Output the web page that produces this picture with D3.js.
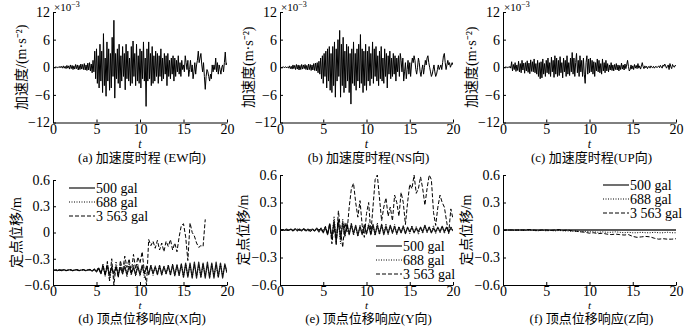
<!DOCTYPE html>
<html>
<head>
<meta charset="utf-8">
<script src="https://cdn.jsdelivr.net/npm/d3@7"></script>
<style>
body{margin:0;background:#fff;}
text{font-family:"Liberation Serif","Noto Sans CJK SC",serif;fill:#000;}
</style>
</head>
<body>
<div id="chart"></div>
<script>
// sampling steps (s)
var accStep = 0.1, dispStep = 0.25, zStep = 0.5;

var timeTicks = [0, 5, 10, 15, 20];
var accTicks = [-12, -6, 0, 6, 12];
var dispTicks = [-0.6, -0.3, 0, 0.3, 0.6];
var legendLabels = ["500 gal", "688 gal", "3 563 gal"];

// acceleration, x10^-3
var accEW = [
 0,0.1,-0.1,0.1,0,-0.1,0.1,-0.1,0.2,-0.1,
 0.2,-0.2,0.3,-0.2,0.2,-0.3,0.4,-0.2,0.3,-0.4,
 0.5,-0.3,0.4,-0.5,0.3,-0.4,0.6,-0.3,0.5,-0.6,
 0.4,-0.5,0.7,-0.4,0.6,-0.5,0.8,-0.6,0.5,-0.7,
 0.9,-0.6,1.0,-0.8,0.7,-1.2,1.5,-1.0,3.5,-2.5,
 4.0,-3.5,2.5,-4.5,5.0,-3.0,3.5,-5.5,7.3,-4.0,
 2.0,-6.3,5.5,-3.0,4.0,-5.0,3.0,-4.5,6.5,-2.0,
 10.2,-6.7,3.0,-2.5,4.0,-3.5,5.0,-4.5,2.5,-3.0,
 4.5,-2.0,3.0,-4.9,5.0,-2.5,3.5,-3.0,2.0,-4.0,
 4.5,-3.5,5.7,-2.0,3.0,-4.0,5.0,-3.0,2.5,-3.5,
 4.0,-4.5,3.5,-2.5,5.5,-3.0,2.0,-8.5,4.0,-3.0,
 5.5,-2.5,3.0,-4.0,4.5,-3.5,2.5,-3.0,3.5,-2.0,
 3.0,-3.5,2.5,-2.0,4.0,-3.0,2.0,-2.5,3.0,-1.5,
 2.5,-4.0,3.0,-2.0,1.5,-2.5,2.0,-1.5,2.5,-3.0,
 2.0,-2.0,1.5,-1.0,2.5,-1.5,1.0,-2.0,1.5,-0.5,
 0.5,-1.0,2.5,1.0,-0.5,1.5,-2.0,-0.5,1.5,-1.0,
 0.5,-2.5,-1.0,1.0,-1.5,0.5,1.5,3.5,1.0,2.0,
 3.0,0.5,-1.0,1.0,-2.0,-4.8,-2.0,-0.5,-1.0,-2.0,
 -3.0,-1.5,-2.5,0.5,-1.0,0.5,-0.5,2.0,-1.0,1.0,
 -1.5,0.5,-0.5,-1.5,0,0.5,-1.0,1.0,3.3,0.5,
 1.0];

var accNS = [
 0,0.1,-0.1,0,0.1,-0.1,0.1,0,-0.1,0.1,
 -0.2,0.3,-0.3,0.2,-0.4,0.5,-0.3,0.4,-0.5,0.6,
 -0.4,0.5,-0.6,0.4,-0.5,0.6,-0.4,0.5,-0.3,0.6,
 -0.5,0.4,-0.6,0.7,-0.5,0.6,-0.7,0.5,-0.6,0.8,
 -0.7,0.9,-0.8,1.0,-1.2,1.3,-1.5,2.0,-2.5,2.5,
 -3.5,3.0,-2.0,3.5,-4.5,4.0,-3.0,4.5,-5.0,3.0,
 -5.5,4.5,-4.0,5.5,-6.5,4.0,-3.0,6.0,-2.0,8.0,
 -6.5,5.0,-4.0,6.5,-5.5,3.5,-4.5,5.0,-3.0,4.5,
 -5.5,3.0,-8.0,4.0,-3.5,5.5,-4.0,3.0,-5.0,4.0,
 -3.0,5.0,-4.5,7.1,-3.5,4.0,-5.5,3.5,-4.0,5.0,
 -5.0,3.5,-3.0,4.5,-4.0,3.0,-2.5,5.5,-3.5,4.0,
 -2.0,4.5,-3.0,2.5,-4.0,3.5,-2.5,4.5,-3.0,2.0,
 -3.5,4.0,-2.0,3.0,-4.5,2.5,-1.5,3.5,-2.5,2.0,
 -2.0,3.0,-1.5,2.5,-3.0,2.0,-1.0,2.5,-2.0,3.0,
 1.5,-1.0,2.0,-3.0,-1.0,1.0,-2.5,-0.5,1.5,-1.5,
 1.0,-2.0,0.5,2.0,1.0,2.5,1.5,-0.5,-1.5,0,
 2.0,1.0,-1.0,-2.0,-0.5,0.5,-1.5,0,1.5,0.5,
 2.0,2.5,1.0,0,-1.0,-2.0,-1.5,-0.5,0.5,-1.0,
 -2.0,-1.5,-0.5,0.5,-0.5,0,0.5,-0.5,1.0,2.5,
 3.0,1.0,-0.5,0.5,1.5,0.5,1.0,0,0.5,1.0,
 0.5];

var accUP = [
 0,0.1,-0.1,0.1,0,-0.1,0.1,-0.1,0.2,-0.2,
 1.2,-0.8,0.6,-0.5,1.0,-0.9,0.5,-0.7,1.3,-1.0,
 0.8,-1.2,1.5,-0.6,0.9,-1.3,1.0,-0.8,1.4,-1.1,
 0.9,-1.4,1.6,-0.9,1.2,-1.0,1.8,-1.2,0.8,-1.5,
 1.5,-2.0,1.0,-2.5,1.2,-2.3,1.8,-1.5,0.8,-2.0,
 1.5,-1.2,2.0,-1.5,1.0,-2.0,2.2,-1.0,1.5,-2.2,
 2.5,-1.5,2.0,-2.0,1.5,-1.8,2.3,-1.2,1.0,-2.3,
 2.0,-1.0,1.5,-2.0,2.5,-1.5,1.0,-1.8,2.0,-1.0,
 3.2,-1.5,2.0,-2.0,1.0,3.0,-1.2,1.5,-2.0,2.5,
 -1.0,1.5,-2.0,2.0,-1.5,-3.5,1.0,2.5,-1.5,1.8,
 -1.2,2.0,-1.0,1.5,-1.5,1.2,-2.0,1.0,-0.8,1.8,
 -1.0,1.5,-1.2,0.8,-1.5,1.8,-0.8,1.0,-1.2,1.5,
 -0.8,0.8,-1.0,0.5,-0.6,1.0,-0.7,0.5,-0.8,0.6,
 -0.5,0.8,-0.6,0.5,-0.8,0.4,-0.5,0.9,-0.4,0.5,
 -0.6,0.7,-0.3,0.5,1.5,0.2,-0.8,-0.5,0.5,-0.4,
 0.3,-0.5,0.6,-0.2,0.4,-0.3,0.8,-0.2,0.3,-0.4,
 0.2,1.0,0.1,-0.3,0.3,-0.1,0.2,-0.3,0.1,0.2,
 -0.2,0.3,0,-0.1,0.2,-0.2,0.1,0.2,-0.1,0.1,
 0.3,-0.1,0.4,0.1,-0.2,0.5,0.2,0.7,0.3,-0.2,
 0.2,0.5,-0.5,0.8,0.1,-0.3,0.6,0.2,0,0.4,
 0.3];

// top displacement (m), X direction, step 0.25 s
var dispX500 = [
 -0.43,-0.43,-0.435,-0.425,-0.435,-0.425,-0.435,-0.43,-0.425,-0.435,
 -0.43,-0.425,-0.435,-0.43,-0.425,-0.435,-0.43,-0.425,-0.44,-0.42,
 -0.45,-0.41,-0.46,-0.40,-0.47,-0.39,-0.48,-0.40,-0.47,-0.39,
 -0.48,-0.40,-0.47,-0.39,-0.48,-0.39,-0.47,-0.40,-0.48,-0.39,
 -0.48,-0.38,-0.47,-0.39,-0.48,-0.38,-0.47,-0.39,-0.48,-0.38,
 -0.48,-0.39,-0.47,-0.38,-0.48,-0.37,-0.49,-0.37,-0.49,-0.36,
 -0.51,-0.35,-0.51,-0.35,-0.52,-0.34,-0.52,-0.34,-0.51,-0.35,
 -0.52,-0.34,-0.52,-0.35,-0.52,-0.34,-0.51,-0.35,-0.52,-0.36,
 -0.46];
var dispX688 = [
 -0.43,-0.43,-0.43,-0.435,-0.425,-0.43,-0.435,-0.425,-0.43,-0.435,
 -0.425,-0.43,-0.435,-0.425,-0.43,-0.435,-0.425,-0.43,-0.44,-0.42,
 -0.43,-0.40,-0.47,-0.36,-0.50,-0.34,-0.56,-0.38,-0.52,-0.33,
 -0.50,-0.36,-0.48,-0.34,-0.51,-0.35,-0.49,-0.37,-0.50,-0.36,
 -0.50,-0.37,-0.52,-0.38,-0.48,-0.37,-0.49,-0.38,-0.48,-0.37,
 -0.49,-0.38,-0.48,-0.37,-0.49,-0.36,-0.50,-0.37,-0.49,-0.36,
 -0.51,-0.36,-0.50,-0.37,-0.51,-0.36,-0.50,-0.37,-0.51,-0.36,
 -0.50,-0.37,-0.51,-0.36,-0.50,-0.37,-0.51,-0.36,-0.50,-0.37,
 -0.45];
// 3 563 gal record stops at 17.5 s
var dispX3563 = [
 -0.43,-0.43,-0.425,-0.435,-0.43,-0.425,-0.435,-0.43,-0.425,-0.435,
 -0.43,-0.425,-0.435,-0.43,-0.425,-0.435,-0.43,-0.42,-0.44,-0.42,
 -0.45,-0.40,-0.48,-0.36,-0.50,-0.33,-0.55,-0.30,-0.60,-0.38,
 -0.52,-0.32,-0.45,-0.27,-0.40,-0.30,-0.46,-0.25,-0.42,-0.28,
 -0.35,-0.22,-0.45,-0.60,-0.08,-0.15,-0.10,-0.18,-0.09,-0.20,
 -0.12,-0.22,-0.10,-0.16,-0.08,-0.20,-0.12,-0.22,-0.05,0.08,
 0.10,-0.05,-0.32,0.11,0.0,-0.04,-0.12,-0.17,-0.15,-0.16,
 0.15];

// Y direction, step 0.25 s
var dispY500 = [
 0,0.005,-0.005,0.01,-0.005,0.01,-0.01,0.015,-0.01,0.01,
 -0.01,0.015,-0.01,0.01,-0.015,0.01,-0.01,0.02,-0.02,0.02,
 -0.03,0.03,-0.05,0.06,-0.08,0.10,-0.12,0.11,-0.10,0.08,
 -0.06,0.07,-0.05,0.06,-0.04,0.05,-0.06,0.04,-0.05,0.05,
 -0.04,0.05,-0.05,0.06,-0.05,0.05,-0.04,0.06,-0.05,0.04,
 -0.04,0.05,-0.03,0.04,-0.04,0.03,-0.03,0.04,-0.04,0.03,
 -0.02,0.03,-0.03,0.02,-0.02,0.03,-0.02,0.05,-0.02,0.03,
 -0.03,0.02,-0.02,0.03,-0.02,0.04,-0.02,0.03,-0.02,0.02,
 -0.01];
var dispY688 = [
 0,0,0.005,-0.005,0,0.005,-0.005,0.005,0,-0.005,
 0.005,0,-0.005,0.005,0,-0.01,0.01,-0.005,0.01,-0.01,
 0,0.03,-0.04,0.06,-0.10,0.15,-0.12,0.10,-0.15,0.12,
 -0.08,0.06,-0.05,0.08,-0.06,0.04,-0.07,0.05,-0.04,0.06,
 -0.05,0.07,-0.04,0.05,-0.06,0.08,-0.05,0.06,-0.04,0.07,
 -0.05,0.05,-0.04,0.06,-0.05,0.04,-0.03,0.05,-0.04,0.03,
 -0.04,0.05,-0.03,0.04,-0.05,0.03,-0.04,0.05,-0.03,0.04,
 -0.03,0.05,-0.04,0.03,-0.03,0.04,-0.04,0.03,-0.03,0.04,
 0];
var dispY3563 = [
 0,0,0.005,-0.005,0,0.01,-0.005,0.005,0.01,0,
 -0.005,0.01,0,-0.01,0.005,0.01,-0.01,0.015,0,0.02,
 -0.02,0.04,-0.05,0.08,-0.15,0.05,-0.17,0.21,0.0,-0.19,
 0.08,-0.02,0.25,0.45,0.51,0.30,0.14,0.32,0.05,-0.08,
 0.18,0.30,-0.04,0.25,0.55,0.60,0.35,0.10,0.25,0.35,
 0.15,0.25,0.10,0.38,0.30,0.15,0.41,0.30,0.06,0.30,
 0.50,0.45,0.60,0.40,0.45,0.58,0.45,0.27,0.45,0.60,
 0.55,0.19,0.05,0.25,0.38,0.30,0.25,0.10,-0.04,0.23,
 0.12];

// Z direction, step 0.5 s
var dispZ500 = [
 0,0,0,0,0,0,0,0,0,0,
 0,0,0,0,0,0,0,0,0,0,
 0,0,0,0,0,0,0,0,0,0,
 0,0,0,0,0,0,0,0,0,0,
 0];
var dispZ688 = [
 0,0,0,-0.005,0,-0.005,0,-0.005,-0.01,0,
 -0.01,-0.005,-0.01,-0.005,-0.01,-0.01,-0.015,-0.01,-0.02,-0.015,
 -0.02,-0.02,-0.025,-0.02,-0.025,-0.025,-0.02,-0.025,-0.03,-0.025,
 -0.03,-0.03,-0.025,-0.03,-0.03,-0.025,-0.03,-0.03,-0.025,-0.03,
 -0.03];
var dispZ3563 = [
 0,0,0,0,0,0,0.005,0,-0.005,0,
 0,-0.005,0,0.005,-0.005,0,-0.01,-0.015,-0.02,-0.025,
 -0.035,-0.03,-0.04,-0.035,-0.045,-0.05,-0.045,-0.05,-0.055,-0.05,
 -0.07,-0.08,-0.075,-0.07,-0.075,-0.09,-0.1,-0.095,-0.1,-0.1,
 -0.095];

var svg = d3.select("#chart").append("svg")
    .attr("width", 700)
    .attr("height", 326);

var lineStyles = [
    {dash: null, width: 1.3, color: "#222"},
    {dash: "1,1.5", width: 1, color: "#000"},
    {dash: "4,2", width: 1, color: "#000"}
];

var panelId = 0;
function drawPanel(p) {
    panelId++;
    var x = d3.scaleLinear().domain([0, 20]).range([p.left, p.right]);
    var y = d3.scaleLinear().domain([p.ticks[0], p.ticks[p.ticks.length - 1]]).range([p.bottom, p.top]);
    var g = svg.append("g");

    g.append("clipPath").attr("id", "clip" + panelId)
        .append("rect")
        .attr("x", p.left).attr("y", p.top - 1)
        .attr("width", p.right - p.left).attr("height", p.bottom - p.top + 1);

    var xAxis = d3.axisBottom(x).tickValues(timeTicks).tickSizeInner(-3).tickSizeOuter(0).tickPadding(p.xPad);
    var yAxis = d3.axisLeft(y).tickValues(p.ticks).tickSizeInner(-3).tickSizeOuter(0).tickPadding(3)
        .tickFormat(function(d){ return d3.format(p.fmt)(d).replace("-", "\u2212"); });

    g.append("g").attr("transform", "translate(0," + p.bottom + ")").call(xAxis);
    g.append("g").attr("transform", "translate(" + p.left + ",0)").call(yAxis);
    g.selectAll(".domain").attr("stroke", "#000");
    g.selectAll(".tick line").attr("stroke", "#000");
    g.selectAll(".tick text").attr("font-size", 14).style("font-family", "Liberation Serif");

    p.series.forEach(function(s, i) {
        var st = p.series.length > 1 ? lineStyles[i] : {dash: null, width: 1, color: "#000"};
        var line = d3.line()
            .x(function(d, k){ return x(k * s.step); })
            .y(function(d){ return y(d); });
        g.append("path")
            .datum(s.values)
            .attr("clip-path", "url(#clip" + panelId + ")")
            .attr("fill", "none")
            .attr("stroke", st.color)
            .attr("stroke-width", st.width)
            .attr("stroke-dasharray", st.dash)
            .attr("stroke-linejoin", "round")
            .attr("d", line);
    });

    // axis titles
    g.append("text")
        .attr("x", (p.left + p.right) / 2)
        .attr("y", p.bottom + p.tOff)
        .attr("text-anchor", "middle")
        .attr("font-size", p.tSize)
        .attr("font-style", "italic")
        .text("t");

    g.append("text")
        .attr("transform", "translate(" + (p.left - p.titleOff) + "," + ((p.top + p.bottom) / 2) + ") rotate(-90)")
        .attr("text-anchor", "middle")
        .attr("font-size", 14)
        .text(p.ylabel);

    g.append("text")
        .attr("x", (p.left + p.right) / 2 + 2)
        .attr("y", p.bottom + p.capOff)
        .attr("text-anchor", "middle")
        .attr("font-size", 13)
        .text(p.caption);

    if (p.exponent) {
        var ex = g.append("text")
            .attr("x", p.left + 1)
            .attr("y", p.top - 1.5)
            .attr("font-size", 11)
            .text("\u00d710");
        ex.append("tspan").attr("dy", -3.5).attr("font-size", 8).text("\u22123");
    }

    if (p.legend) {
        legendLabels.forEach(function(lab, i) {
            var ly = p.legend.y + i * 14;
            var st = lineStyles[i];
            g.append("line")
                .attr("x1", p.legend.x).attr("x2", p.legend.x + 26)
                .attr("y1", ly).attr("y2", ly)
                .attr("stroke", st.color)
                .attr("stroke-width", st.width)
                .attr("stroke-dasharray", st.dash);
            g.append("text")
                .attr("x", p.legend.x + 27)
                .attr("y", ly)
                .attr("dy", "0.35em")
                .attr("font-size", 14)
                .text(lab);
        });
    }
}

var topRow = {top: 12, bottom: 122.5, ticks: accTicks, fmt: "d", titleOff: 27, exponent: true,
    xPad: 2, tOff: 25, tSize: 12, capOff: 39.5};
drawPanel(Object.assign({}, topRow, {left: 53, right: 227, ylabel: "加速度/(m·s⁻²)",
    caption: "(a) 加速度时程 (EW向)", series: [{values: accEW, step: accStep}]}));
drawPanel(Object.assign({}, topRow, {left: 280, right: 453, ylabel: "加速度(m·s⁻²)",
    caption: "(b) 加速度时程(NS向)", series: [{values: accNS, step: accStep}]}));
drawPanel(Object.assign({}, topRow, {left: 503, right: 676, ylabel: "加速度(m·s⁻²)",
    caption: "(c) 加速度时程(UP向)", series: [{values: accUP, step: accStep}]}));

var botRow = {ticks: dispTicks, fmt: ".1~f", titleOff: 32, ylabel: "定点位移/m",
    xPad: 1, tOff: 24, tSize: 11, capOff: 38};
drawPanel(Object.assign({}, botRow, {left: 53, right: 227, top: 180, bottom: 285,
    caption: "(d) 顶点位移响应(X向)", legend: {x: 69, y: 188},
    series: [{values: dispX500, step: dispStep}, {values: dispX688, step: dispStep}, {values: dispX3563, step: dispStep}]}));
drawPanel(Object.assign({}, botRow, {left: 280, right: 453, top: 175, bottom: 285,
    caption: "(e) 顶点位移响应(Y向)", legend: {x: 376, y: 246},
    series: [{values: dispY500, step: dispStep}, {values: dispY688, step: dispStep}, {values: dispY3563, step: dispStep}]}));
drawPanel(Object.assign({}, botRow, {left: 503, right: 676, top: 175, bottom: 285,
    caption: "(f) 顶点位移响应(Z向)", legend: {x: 603, y: 185},
    series: [{values: dispZ500, step: zStep}, {values: dispZ688, step: zStep}, {values: dispZ3563, step: zStep}]}));
</script>
</body>
</html>
